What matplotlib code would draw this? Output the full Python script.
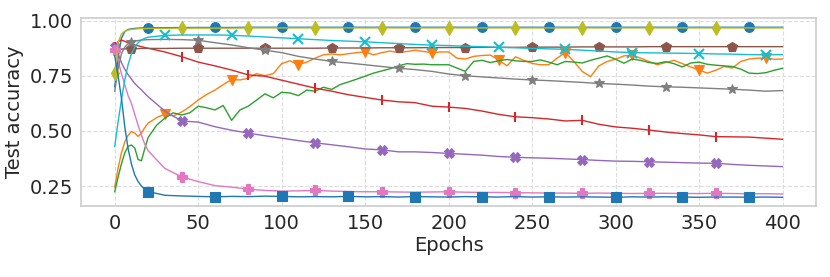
import numpy as np
import matplotlib
matplotlib.use("Agg")
import matplotlib.pyplot as plt

# epoch grids: fine at the start, then every 10 (smooth runs) or every 5 (noisy runs)
EPOCHS_SMOOTH = [0, 2, 4, 6, 8, 10, 12, 14, 16, 18, 20] + list(range(30, 401, 10))
EPOCHS_NOISY = [0, 2, 4, 6, 8, 10, 12, 14, 16, 18, 20] + list(range(25, 401, 5))

blue_circle = [0.70, 0.83, 0.92, 0.95, 0.96, 0.963, 0.965, 0.966, 0.967, 0.967, 0.968,
               0.968, 0.969, 0.969, 0.969, 0.969, 0.970, 0.970, 0.970, 0.970, 0.970,
               0.970, 0.970, 0.970, 0.970, 0.970, 0.970, 0.970, 0.970, 0.970, 0.970,
               0.970, 0.970, 0.970, 0.970, 0.970, 0.970, 0.970, 0.970, 0.970, 0.970,
               0.970, 0.970, 0.970, 0.970, 0.970, 0.970, 0.970, 0.970]

orange = [0.245, 0.33, 0.40, 0.45, 0.48, 0.497, 0.49, 0.475, 0.49, 0.515, 0.535,
          0.56, 0.576, 0.568, 0.585, 0.61, 0.64, 0.665, 0.685, 0.71, 0.733,
          0.731, 0.739, 0.76, 0.75, 0.76, 0.805, 0.818, 0.80, 0.812, 0.83,
          0.845, 0.849, 0.845, 0.85, 0.855, 0.858, 0.845, 0.855, 0.862, 0.855,
          0.86, 0.866, 0.86, 0.855, 0.858, 0.858, 0.83, 0.826, 0.838, 0.842,
          0.844, 0.822, 0.795, 0.836, 0.82, 0.806, 0.80, 0.80, 0.83, 0.855,
          0.815, 0.77, 0.746, 0.795, 0.815, 0.825, 0.84, 0.844, 0.83, 0.815,
          0.80, 0.81, 0.82, 0.805, 0.79, 0.776, 0.762, 0.775, 0.792, 0.785,
          0.815, 0.826, 0.83, 0.83, 0.825, 0.826]

green = [0.224, 0.29, 0.35, 0.40, 0.43, 0.436, 0.422, 0.37, 0.365, 0.42, 0.47,
         0.525, 0.558, 0.582, 0.572, 0.582, 0.612, 0.605, 0.595, 0.615, 0.548,
         0.595, 0.612, 0.64, 0.668, 0.65, 0.675, 0.672, 0.66, 0.685, 0.68,
         0.698, 0.688, 0.71, 0.722, 0.735, 0.748, 0.762, 0.772, 0.782, 0.795,
         0.805, 0.802, 0.803, 0.80, 0.80, 0.80, 0.785, 0.77, 0.815, 0.82,
         0.81, 0.818, 0.824, 0.818, 0.815, 0.815, 0.822, 0.812, 0.80, 0.815,
         0.812, 0.808, 0.82, 0.83, 0.84, 0.825, 0.807, 0.826, 0.82, 0.81,
         0.806, 0.814, 0.805, 0.79, 0.808, 0.812, 0.802, 0.798, 0.795, 0.792,
         0.78, 0.762, 0.76, 0.764, 0.775, 0.784]

red = [0.88, 0.905, 0.912, 0.906, 0.90, 0.895, 0.89, 0.886, 0.882, 0.878, 0.875,
       0.858, 0.837, 0.812, 0.795, 0.776, 0.754, 0.748, 0.73, 0.712, 0.694,
       0.68, 0.664, 0.652, 0.64, 0.632, 0.628, 0.612, 0.608, 0.602, 0.59,
       0.575, 0.564, 0.56, 0.554, 0.545, 0.548, 0.53, 0.518, 0.512, 0.504,
       0.495, 0.488, 0.482, 0.474, 0.473, 0.472, 0.467, 0.462]

purple = [0.882, 0.85, 0.81, 0.78, 0.755, 0.735, 0.715, 0.70, 0.686, 0.67, 0.655,
          0.59, 0.545, 0.54, 0.519, 0.503, 0.49, 0.478, 0.467, 0.456, 0.446,
          0.437, 0.428, 0.418, 0.414, 0.405, 0.405, 0.402, 0.398, 0.394, 0.39,
          0.384, 0.38, 0.378, 0.376, 0.373, 0.37, 0.366, 0.363, 0.362, 0.36,
          0.358, 0.356, 0.354, 0.353, 0.348, 0.344, 0.341, 0.338]

brown = [0.868, 0.87, 0.871, 0.872, 0.872, 0.873, 0.873, 0.873, 0.874, 0.874, 0.874,
         0.874, 0.875, 0.875, 0.875, 0.875, 0.875, 0.875, 0.875, 0.875, 0.875,
         0.876, 0.876, 0.876, 0.877, 0.877, 0.877, 0.878, 0.878, 0.878, 0.879,
         0.879, 0.879, 0.880, 0.880, 0.880, 0.881, 0.881, 0.881, 0.881, 0.882,
         0.882, 0.882, 0.882, 0.882, 0.882, 0.882, 0.882, 0.882]

pink = [0.865, 0.82, 0.76, 0.71, 0.66, 0.625, 0.575, 0.525, 0.48, 0.44, 0.41,
        0.33, 0.292, 0.27, 0.252, 0.245, 0.236, 0.23, 0.227, 0.228, 0.23,
        0.227, 0.225, 0.224, 0.224, 0.223, 0.222, 0.223, 0.224, 0.222, 0.221,
        0.221, 0.22, 0.219, 0.218, 0.218, 0.217, 0.218, 0.217, 0.216, 0.217,
        0.217, 0.216, 0.216, 0.217, 0.216, 0.215, 0.215, 0.214]

grey = [0.68, 0.78, 0.85, 0.88, 0.895, 0.903, 0.907, 0.91, 0.912, 0.913, 0.914,
        0.915, 0.914, 0.911, 0.90, 0.89, 0.877, 0.866, 0.855, 0.838, 0.826,
        0.815, 0.808, 0.80, 0.792, 0.784, 0.778, 0.77, 0.758, 0.75, 0.745,
        0.74, 0.735, 0.731, 0.728, 0.724, 0.72, 0.715, 0.712, 0.708, 0.703,
        0.70, 0.698, 0.695, 0.692, 0.689, 0.685, 0.68, 0.683]

olive = [0.763, 0.90, 0.94, 0.952, 0.957, 0.96, 0.962, 0.963, 0.964, 0.964, 0.965,
         0.965, 0.966, 0.966, 0.966, 0.966, 0.967, 0.967, 0.967, 0.967, 0.967,
         0.967, 0.967, 0.967, 0.967, 0.967, 0.967, 0.967, 0.967, 0.967, 0.967,
         0.967, 0.967, 0.967, 0.967, 0.967, 0.967, 0.967, 0.967, 0.967, 0.967,
         0.967, 0.967, 0.967, 0.967, 0.967, 0.967, 0.967, 0.967]

cyan = [0.43, 0.54, 0.64, 0.73, 0.80, 0.85, 0.88, 0.90, 0.912, 0.92, 0.925,
        0.933, 0.935, 0.935, 0.935, 0.934, 0.93, 0.926, 0.922, 0.918, 0.914,
        0.91, 0.907, 0.904, 0.90, 0.896, 0.892, 0.889, 0.887, 0.884, 0.882,
        0.879, 0.877, 0.874, 0.872, 0.870, 0.866, 0.862, 0.858, 0.855, 0.854,
        0.853, 0.852, 0.851, 0.849, 0.848, 0.846, 0.845, 0.846]

blue_square = [0.84, 0.75, 0.65, 0.52, 0.42, 0.35, 0.30, 0.27, 0.25, 0.235, 0.225,
               0.208, 0.205, 0.203, 0.201, 0.203, 0.202, 0.204, 0.203, 0.201, 0.202,
               0.201, 0.203, 0.201, 0.202, 0.200, 0.202, 0.201, 0.200, 0.202, 0.201,
               0.200, 0.202, 0.200, 0.201, 0.200, 0.201, 0.200, 0.199, 0.201, 0.200,
               0.201, 0.200, 0.199, 0.200, 0.200, 0.199, 0.200, 0.199]

# (epochs, values, colour, marker, first marked epoch)
SERIES = [
    (EPOCHS_SMOOTH, blue_circle, "tab:blue", "o", 20),
    (EPOCHS_NOISY, orange, "tab:orange", "v", 30),
    (EPOCHS_NOISY, green, "tab:green", None, 0),
    (EPOCHS_SMOOTH, red, "tab:red", "|", 0),
    (EPOCHS_SMOOTH, purple, "tab:purple", "X", 0),
    (EPOCHS_SMOOTH, brown, "tab:brown", "p", 10),
    (EPOCHS_SMOOTH, pink, "tab:pink", "P", 0),
    (EPOCHS_SMOOTH, grey, "tab:gray", "*", 10),
    (EPOCHS_SMOOTH, olive, "tab:olive", "d", 0),
    (EPOCHS_SMOOTH, cyan, "tab:cyan", "x", 30),
    (EPOCHS_SMOOTH, blue_square, "tab:blue", "s", 20),
]

plt.rcParams.update({
    "font.family": "DejaVu Sans",
    "axes.edgecolor": "#cccccc",
    "axes.linewidth": 1.2,
    "xtick.color": "#262626",
    "ytick.color": "#262626",
    "axes.labelcolor": "#262626",
})

fig = plt.figure(figsize=(8.3, 2.77), dpi=100)
ax = fig.add_axes([0.098, 0.256, 0.885, 0.679])

for ep, vals, color, marker, start in SERIES:
    ep = np.array(ep)
    # one marker every 40 epochs, last run epoch is 399 so 400 gets none
    marks = list(np.where(np.isin(ep, np.arange(start, 400, 40)))[0])
    ax.plot(ep, vals, color=color, lw=1.0, marker=marker, markevery=marks,
            markersize=7, markeredgewidth=1.5 if marker in ("x", "|") else 0.8)

ax.set_xlim(-20, 420)
ax.set_ylim(0.159, 1.012)
ax.set_xticks(range(0, 401, 50))
ax.set_yticks([0.25, 0.50, 0.75, 1.00])
ax.set_yticklabels(["0.25", "0.50", "0.75", "1.00"])
ax.grid(True, linestyle="--", color="#dddddd", lw=0.8)
ax.tick_params(labelsize=14, length=0, pad=6)
ax.set_xlabel("Epochs", fontsize=14, labelpad=2)
ax.set_ylabel("Test accuracy", fontsize=14, labelpad=4)

fig.savefig("out.png", dpi=100)
